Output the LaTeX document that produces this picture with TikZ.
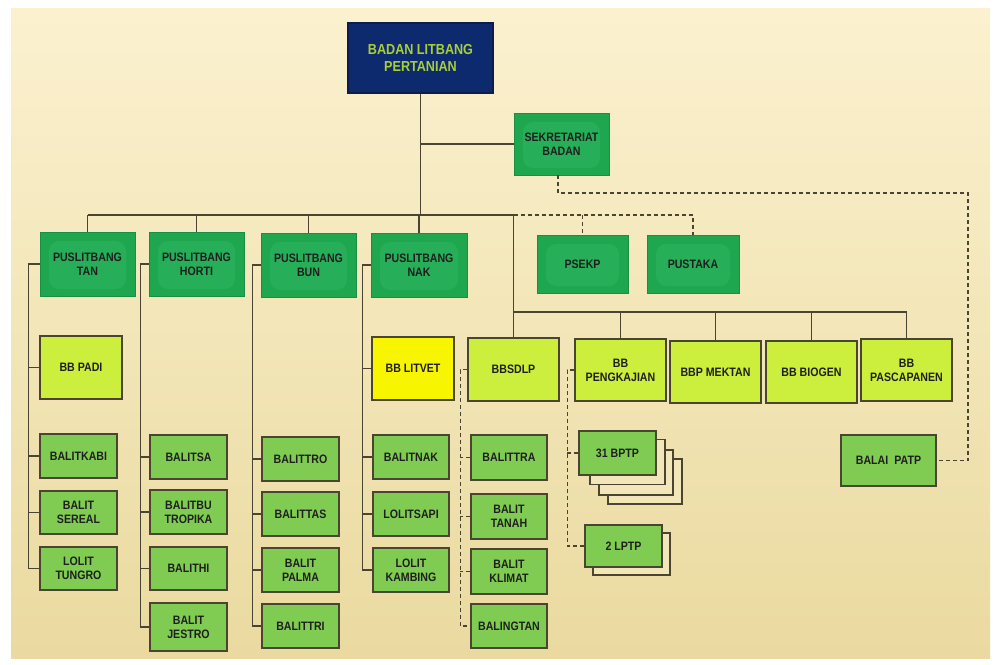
\documentclass[tikz,border=0pt]{standalone}
\usepackage{fontspec}
\setmainfont{Liberation Sans}[FakeStretch=0.87]
\usetikzlibrary{calc}
\definecolor{bgtop}{HTML}{FBF1CF}
\definecolor{bgbot}{HTML}{EADAA0}
\definecolor{lineC}{HTML}{4A4432}
\definecolor{dgreen}{HTML}{1FA750}
\definecolor{dglow}{HTML}{26AE58}
\definecolor{lgreen}{HTML}{80CC52}
\definecolor{ygreen}{HTML}{CCEE3C}
\definecolor{yel}{HTML}{F8F500}
\definecolor{navy}{HTML}{0E2A6E}
\definecolor{navytext}{HTML}{A8CF38}
\definecolor{stackfill}{HTML}{F3E6B8}
\tikzset{
  box/.style={draw=lineC, line width=1.3pt, align=center, inner sep=1pt,
    text=black!88, font=\bfseries\fontsize{12.2}{14}\selectfont},
  sz/.style 2 args={minimum width=#1pt, minimum height=#2pt},
  dbox/.style={box, draw=dgreen!85!black, line width=0.6pt, fill=dgreen,
    path picture={\fill[dglow, rounded corners=10pt]
      ($(path picture bounding box.south west)+(9pt,7pt)$) rectangle
      ($(path picture bounding box.north east)+(-9pt,-9pt)$);}},
  lbox/.style={box, fill=lgreen},
  ybox/.style={box, fill=ygreen},
  sbox/.style={draw=lineC, line width=1.3pt, fill=stackfill},
  conn/.style={draw=lineC, line width=1.5pt},
  dsh/.style={draw=lineC, line width=1.5pt, dash pattern=on 4pt off 3pt},
}
\begin{document}
\begin{tikzpicture}[x=1pt, y=-1pt]
\useasboundingbox (0,0) rectangle (995,664);
\fill[white] (0,0) rectangle (995,664);
\shade[top color=bgtop, bottom color=bgbot] (11,8) rectangle (990,658);

% top
\node[box, draw=navy!70!black, fill=navy, text=navytext, sz={145}{70},
  font=\bfseries\fontsize{14.5}{17}\selectfont] (badan) at (420.5,58) {BADAN LITBANG\\PERTANIAN};
\node[dbox, sz={95}{62}] (sek) at (561.5,144) {SEKRETARIAT\\BADAN};

% puslitbang row
\node[dbox, sz={95}{64}] (tan) at (87.5,264) {PUSLITBANG\\TAN};
\node[dbox, sz={95}{64}] (horti) at (196.5,264) {PUSLITBANG\\HORTI};
\node[dbox, sz={95}{64}] (bun) at (308.5,265) {PUSLITBANG\\BUN};
\node[dbox, sz={96}{64}] (nak) at (419,265) {PUSLITBANG\\NAK};
\node[dbox, sz={91}{58}] (psekp) at (582.5,264) {PSEKP};
\node[dbox, sz={92}{58}] (pustaka) at (693,264) {PUSTAKA};

% BB row
\node[ybox, sz={82}{63}] (bbpadi) at (81,367.5) {BB PADI};
\node[box, fill=yel, sz={82}{63}] (litvet) at (413,368.5) {BB LITVET};
\node[ybox, sz={91}{63}] (bbsdlp) at (513.5,369.5) {BBSDLP};
\node[ybox, sz={91}{62}] (pengk) at (620.5,370) {BB\\PENGKAJIAN};
\node[ybox, sz={91}{62}] (mektan) at (715.5,372) {BBP MEKTAN};
\node[ybox, sz={91}{62}] (biogen) at (811.5,372) {BB BIOGEN};
\node[ybox, sz={91}{62}] (pasca) at (906.5,370) {BB\\PASCAPANEN};
\node[lbox, sz={95}{51}] (patp) at (888.5,460.5) {BALAI\enspace PATP};

% TAN children
\node[lbox, sz={77}{44}] (kabi) at (78.5,456) {BALITKABI};
\node[lbox, sz={77}{43}] (sereal) at (78.5,512.5) {BALIT\\SEREAL};
\node[lbox, sz={77}{43}] (tungro) at (78.5,568.5) {LOLIT\\TUNGRO};
% HORTI children
\node[lbox, sz={77}{44}] (balitsa) at (188.5,457) {BALITSA};
\node[lbox, sz={77}{44}] (balitbu) at (188.5,512) {BALITBU\\TROPIKA};
\node[lbox, sz={77}{43}] (balithi) at (188.5,568.5) {BALITHI};
\node[lbox, sz={77}{48}] (jestro) at (188.5,627) {BALIT\\JESTRO};
% BUN children
\node[lbox, sz={77}{44}] (balittro) at (300.5,459) {BALITTRO};
\node[lbox, sz={77}{44}] (balittas) at (300.5,514) {BALITTAS};
\node[lbox, sz={77}{44}] (palma) at (300.5,570) {BALIT\\PALMA};
\node[lbox, sz={77}{44}] (balittri) at (300.5,626) {BALITTRI};
% NAK children
\node[lbox, sz={76}{44}] (balitnak) at (411,457) {BALITNAK};
\node[lbox, sz={76}{44}] (lolitsapi) at (411,514) {LOLITSAPI};
\node[lbox, sz={76}{44}] (kambing) at (411,570) {LOLIT\\KAMBING};
% BBSDLP children
\node[lbox, sz={76}{45}] (balittra) at (509,457.5) {BALITTRA};
\node[lbox, sz={76}{45}] (tanah) at (509,516.5) {BALIT\\TANAH};
\node[lbox, sz={76}{45}] (klimat) at (509,571.5) {BALIT\\KLIMAT};
\node[lbox, sz={76}{44}] (balingtan) at (509,626) {BALINGTAN};

% stacks
\node[sbox, sz={74}{45}] (bptpC) at (645,481.5) {};
\node[sbox, sz={74}{45}] (bptpB) at (636,472.5) {};
\node[sbox, sz={75}{45}] (bptpA) at (627.5,462) {};
\node[lbox, sz={77}{44}] (bptp) at (617.5,453) {31 BPTP};
\node[sbox, sz={77}{42}] (lptpA) at (631.5,554) {};
\node[lbox, sz={77}{42}] (lptp) at (623.5,546) {2 LPTP};

% connectors
\coordinate (bus) at (420.5,215);
\coordinate (bus2) at (513.5,312);
\coordinate (sekdrop) at (558,175);
\coordinate (dk) at (968,193);
\draw[conn] (badan.south) -- (bus);
\draw[conn] (sek.west -| badan.south) -- (sek.west);
\draw[conn] (tan.north |- bus) -- (bus -| bbsdlp.north) -- (bbsdlp.north);
\foreach \n in {tan,horti,bun,nak} \draw[conn] (\n.north |- bus) -- (\n.north);
\draw[dsh] (bus -| bbsdlp.north) -- (bus -| pustaka.north) -- (pustaka.north);
\draw[dsh] (bus -| psekp.north) -- (psekp.north);
\draw[conn] (bus2) -- (bus2 -| pasca.north) -- (pasca.north);
\foreach \n in {pengk,mektan,biogen} \draw[conn] (bus2 -| \n.north) -- (\n.north);
\draw[dsh] (sekdrop) -- (sekdrop |- dk) -- (dk) -- (dk |- patp.east) -- (patp.east);

% TAN tree
\draw[conn] (tan.west) -| ($(tungro.west)+(-11,0)$) -- (tungro.west);
\foreach \n in {bbpadi,kabi,sereal} \draw[conn] (\n.west) -- ++(-11,0);
% HORTI tree
\draw[conn] (horti.west) -| ($(jestro.west)+(-9,0)$) -- (jestro.west);
\foreach \n in {balitsa,balitbu,balithi} \draw[conn] (\n.west) -- ++(-9,0);
% BUN tree
\draw[conn] (bun.west) -| ($(balittri.west)+(-9,0)$) -- (balittri.west);
\foreach \n in {balittro,balittas,palma} \draw[conn] (\n.west) -- ++(-9,0);
% NAK tree
\draw[conn] (nak.west) -| ($(kambing.west)+(-10,0)$) -- (kambing.west);
\draw[conn] (litvet.west) -- ++(-9,0);
\foreach \n in {balitnak,lolitsapi} \draw[conn] (\n.west) -- ++(-10,0);
% BBSDLP tree
\draw[dsh] (bbsdlp.west) -| ($(balingtan.west)+(-10,0)$) -- (balingtan.west);
\foreach \n in {balittra,tanah,klimat} \draw[dsh] (\n.west) -- ++(-10,0);
% PENGKAJIAN tree
\draw[dsh] (pengk.west) -| ($(lptp.west)+(-17,0)$) -- (lptp.west);
\draw[dsh] (bptp.west) -- ++(-11,0);
\end{tikzpicture}
\end{document}
